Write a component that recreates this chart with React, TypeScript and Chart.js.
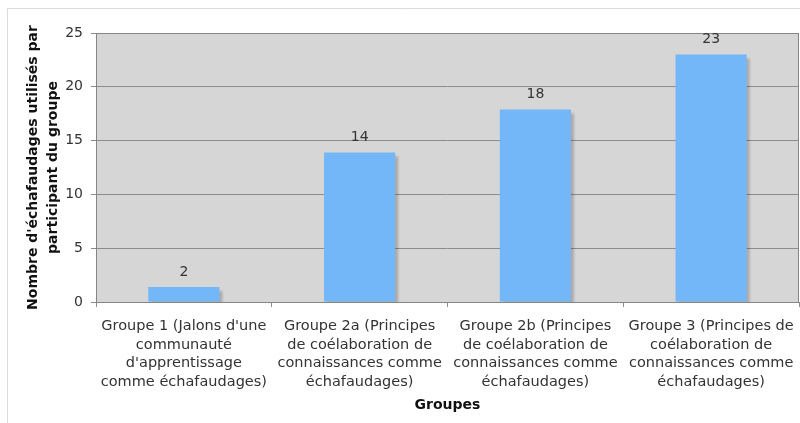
import React, { useEffect, useRef } from "react";
import { Chart, registerables } from "chart.js";

Chart.register(...registerables);

const categories: string[][] = [
  ["Groupe 1 (Jalons d'une", "communauté", "d'apprentissage", "comme échafaudages)"],
  ["Groupe 2a (Principes", "de coélaboration de", "connaissances comme", "échafaudages)"],
  ["Groupe 2b (Principes", "de coélaboration de", "connaissances comme", "échafaudages)"],
  ["Groupe 3 (Principes de", "coélaboration de", "connaissances comme", "échafaudages)"],
];
const barValues: number[] = [1.4, 13.9, 17.9, 23.0];
const valueLabels: string[] = ["2", "14", "18", "23"];
const yMin = 0;
const yMax = 25;
const yStep = 5;
const yAxisTitle: string[] = ["Nombre d'échafaudages utilisés par", "participant du groupe"];
const xAxisTitle = "Groupes";

const FONT = "'DejaVu Sans', Verdana, sans-serif";

const decorPlugin = {
  id: "decor",
  beforeDraw(chart: any) {
    const { ctx, chartArea, width, height } = chart;
    ctx.save();
    ctx.fillStyle = "#ffffff";
    ctx.fillRect(0, 0, width, height);
    ctx.strokeStyle = "#dcdcdc";
    ctx.lineWidth = 1;
    ctx.beginPath();
    ctx.moveTo(7.5, height);
    ctx.lineTo(7.5, 8.5);
    ctx.lineTo(width, 8.5);
    ctx.stroke();
    ctx.fillStyle = "#d6d6d6";
    ctx.fillRect(chartArea.left, chartArea.top, chartArea.right - chartArea.left, chartArea.bottom - chartArea.top);
    ctx.restore();
  },
  beforeDatasetsDraw(chart: any) {
    const { ctx, chartArea } = chart;
    ctx.save();
    ctx.strokeStyle = "#858585";
    ctx.lineWidth = 1;
    ctx.strokeRect(
      Math.round(chartArea.left) + 0.5,
      Math.round(chartArea.top) + 0.5,
      Math.round(chartArea.right - chartArea.left) - 1,
      Math.round(chartArea.bottom - chartArea.top)
    );
    ctx.restore();
    // soft drop shadow behind each bar
    const meta = chart.getDatasetMeta(0);
    ctx.save();
    ctx.beginPath();
    ctx.rect(chartArea.left, chartArea.top, chartArea.right - chartArea.left, chartArea.bottom - chartArea.top);
    ctx.clip();
    ctx.filter = "blur(1px)";
    ctx.fillStyle = "rgba(0,0,0,0.2)";
    meta.data.forEach((bar: any) => {
      const w = bar.width;
      ctx.fillRect(bar.x - w / 2 + 3, bar.y + 4, w, bar.base - bar.y);
    });
    ctx.restore();
  },
  afterDatasetsDraw(chart: any) {
    const { ctx } = chart;
    const meta = chart.getDatasetMeta(0);
    ctx.save();
    ctx.font = `14px ${FONT}`;
    ctx.fillStyle = "#333333";
    ctx.textAlign = "center";
    ctx.textBaseline = "middle";
    meta.data.forEach((bar: any, i: number) => {
      ctx.fillText(valueLabels[i], bar.x, bar.y - 15);
    });
    ctx.restore();
  },
};

export default function App() {
  const canvasRef = useRef<HTMLCanvasElement | null>(null);

  useEffect(() => {
    document.body.style.margin = "0";
    const canvas = canvasRef.current;
    if (!canvas) return;
    const chart = new Chart(canvas, {
      type: "bar",
      data: {
        labels: categories,
        datasets: [
          {
            data: barValues,
            backgroundColor: "#73b7f8",
            borderWidth: 0,
            inflateAmount: 0,
            categoryPercentage: 1,
            barPercentage: 0.405,
          },
        ],
      },
      options: {
        responsive: false,
        animation: false,
        devicePixelRatio: 1,
        layout: { padding: { left: 0, top: 33, right: 1, bottom: 0 } },
        plugins: {
          legend: { display: false },
          tooltip: { enabled: false },
          title: { display: false },
        },
        scales: {
          x: {
            offset: true,
            afterFit: (scale: any) => {
              scale.height = 121;
              scale.paddingLeft = 0;
              scale.paddingRight = 0;
            },
            grid: {
              offset: true,
              drawOnChartArea: false,
              drawTicks: true,
              tickLength: 5,
              color: "#8c8c8c",
            },
            border: { display: false },
            ticks: {
              autoSkip: false,
              maxRotation: 0,
              minRotation: 0,
              padding: 10.25,
              color: "#333333",
              font: { family: FONT, size: 14.5, lineHeight: "18.5px" },
            },
            title: {
              display: true,
              text: xAxisTitle,
              color: "#111111",
              font: { family: FONT, size: 14, weight: "bold", lineHeight: "18px" },
              padding: { top: 0, bottom: 9 },
            },
          },
          y: {
            min: yMin,
            max: yMax,
            afterFit: (scale: any) => {
              scale.width = 96;
              scale.paddingTop = 0;
              scale.paddingBottom = 0;
            },
            grid: {
              color: "#8c8c8c",
              drawTicks: true,
              tickLength: 5,
            },
            border: { display: false },
            ticks: {
              stepSize: yStep,
              padding: 8,
              color: "#333333",
              font: { family: FONT, size: 14 },
            },
            title: {
              display: true,
              text: yAxisTitle,
              color: "#111111",
              font: { family: FONT, size: 14, weight: "bold", lineHeight: "19.5px" },
              padding: { top: 23.75, bottom: 0 },
            },
          },
        },
      },
      plugins: [decorPlugin],
    });
    return () => chart.destroy();
  }, []);

  return (
    <div style={{ width: 800, height: 423 }}>
      <canvas ref={canvasRef} width={800} height={423} style={{ display: "block" }} />
    </div>
  );
}
